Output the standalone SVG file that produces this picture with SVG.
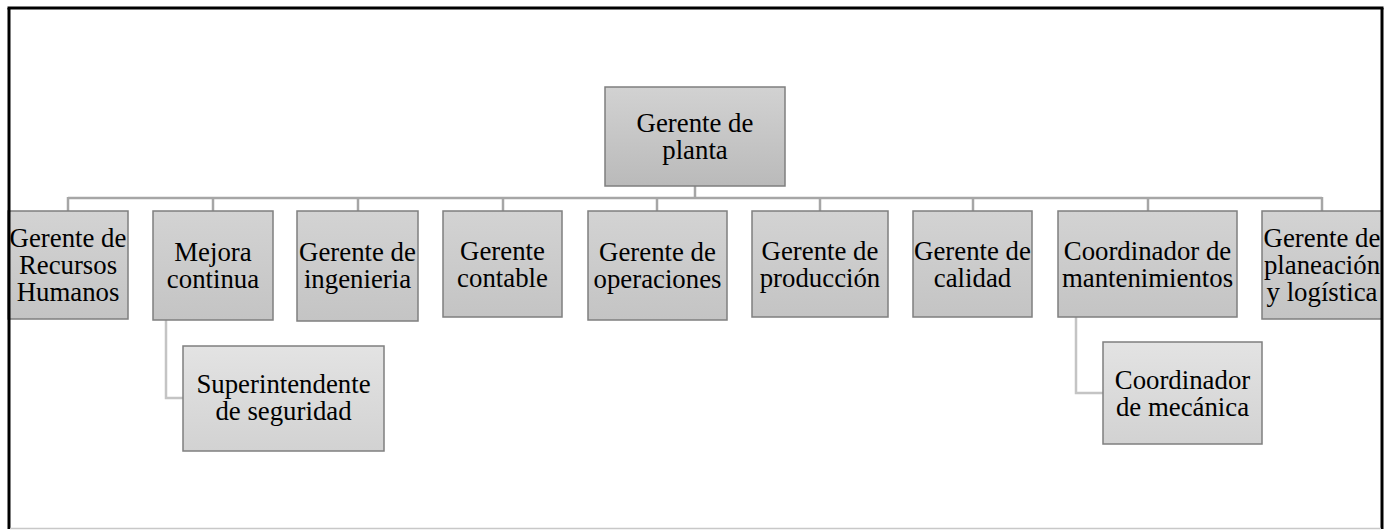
<svg xmlns="http://www.w3.org/2000/svg" width="1394" height="530" viewBox="0 0 1394 530">
  <defs>
    <linearGradient id="gTop" x1="0" y1="0" x2="0" y2="1">
      <stop offset="0" stop-color="#d2d2d2"/>
      <stop offset="1" stop-color="#bababa"/>
    </linearGradient>
    <linearGradient id="gMid" x1="0" y1="0" x2="0" y2="1">
      <stop offset="0" stop-color="#d3d3d3"/>
      <stop offset="1" stop-color="#c4c4c4"/>
    </linearGradient>
    <linearGradient id="gSub" x1="0" y1="0" x2="0" y2="1">
      <stop offset="0" stop-color="#e3e3e3"/>
      <stop offset="1" stop-color="#d2d2d2"/>
    </linearGradient>
  </defs>
  <style>
    .box { stroke: #7f7f7f; stroke-width: 1.5; }
    .top { fill: url(#gTop); }
    .mid { fill: url(#gMid); }
    .sub { fill: url(#gSub); }
    .lbl { font-family: 'Liberation Serif', 'DejaVu Serif', serif; font-size: 26.8px; fill: #000; text-anchor: middle; }
    .con { fill: none; stroke: #a6a6a6; stroke-width: 2.5; }
    .con2 { fill: none; stroke: #c4c4c4; stroke-width: 2.5; }
  </style>
  <rect x="0" y="0" width="1394" height="530" fill="#ffffff"/>

  <g id="connectors">
    <line class="con" x1="695" y1="186" x2="695" y2="198"/>
    <line class="con" x1="68" y1="198" x2="1322" y2="198"/>
    <line class="con" x1="68" y1="197" x2="68" y2="211"/>
    <line class="con" x1="213" y1="197" x2="213" y2="211"/>
    <line class="con" x1="358" y1="197" x2="358" y2="211"/>
    <line class="con" x1="503" y1="197" x2="503" y2="211"/>
    <line class="con" x1="657" y1="197" x2="657" y2="211"/>
    <line class="con" x1="820" y1="197" x2="820" y2="211"/>
    <line class="con" x1="973" y1="197" x2="973" y2="211"/>
    <line class="con" x1="1148" y1="197" x2="1148" y2="211"/>
    <line class="con" x1="1322" y1="197" x2="1322" y2="211"/>
    <path class="con2" d="M166,320 V398 H183"/>
    <path class="con2" d="M1076,317 V393 H1103"/>
  </g>

  <g id="n-planta">
    <rect class="box top" x="605" y="87" width="180" height="99"/>
    <text class="lbl" x="695" y="132">Gerente de</text>
    <text class="lbl" x="695" y="159">planta</text>
  </g>
  <g id="n-rrhh">
    <rect class="box mid" x="8" y="211" width="120" height="108"/>
    <text class="lbl" x="68" y="247">Gerente de</text>
    <text class="lbl" x="68" y="274">Recursos</text>
    <text class="lbl" x="68" y="301">Humanos</text>
  </g>
  <g id="n-mejora">
    <rect class="box mid" x="153" y="211" width="120" height="109"/>
    <text class="lbl" x="213" y="261">Mejora</text>
    <text class="lbl" x="213" y="288">continua</text>
  </g>
  <g id="n-ingenieria">
    <rect class="box mid" x="297" y="211" width="121" height="110"/>
    <text class="lbl" x="357.5" y="261">Gerente de</text>
    <text class="lbl" x="357.5" y="288">ingenieria</text>
  </g>
  <g id="n-contable">
    <rect class="box mid" x="443" y="211" width="119" height="106"/>
    <text class="lbl" x="502.5" y="260">Gerente</text>
    <text class="lbl" x="502.5" y="287">contable</text>
  </g>
  <g id="n-operaciones">
    <rect class="box mid" x="588" y="211" width="139" height="109"/>
    <text class="lbl" x="657.5" y="261">Gerente de</text>
    <text class="lbl" x="657.5" y="288">operaciones</text>
  </g>
  <g id="n-produccion">
    <rect class="box mid" x="752" y="211" width="136" height="106"/>
    <text class="lbl" x="820" y="260">Gerente de</text>
    <text class="lbl" x="820" y="287">producción</text>
  </g>
  <g id="n-calidad">
    <rect class="box mid" x="913" y="211" width="119" height="106"/>
    <text class="lbl" x="972.5" y="260">Gerente de</text>
    <text class="lbl" x="972.5" y="287">calidad</text>
  </g>
  <g id="n-mantenimientos">
    <rect class="box mid" x="1058" y="211" width="179" height="106"/>
    <text class="lbl" x="1147.5" y="260">Coordinador de</text>
    <text class="lbl" x="1147.5" y="287">mantenimientos</text>
  </g>
  <g id="n-planeacion">
    <rect class="box mid" x="1262" y="211" width="120" height="108"/>
    <text class="lbl" x="1322" y="247">Gerente de</text>
    <text class="lbl" x="1322" y="274">planeación</text>
    <text class="lbl" x="1322" y="301">y logística</text>
  </g>
  <g id="n-seguridad">
    <rect class="box sub" x="183" y="346" width="201" height="105"/>
    <text class="lbl" x="283.5" y="393">Superintendente</text>
    <text class="lbl" x="283.5" y="420">de seguridad</text>
  </g>
  <g id="n-mecanica">
    <rect class="box sub" x="1103" y="342" width="159" height="102"/>
    <text class="lbl" x="1182.5" y="389">Coordinador</text>
    <text class="lbl" x="1182.5" y="416">de mecánica</text>
  </g>

  <g id="frame">
    <line x1="9" y1="8" x2="9" y2="529" stroke="#000" stroke-width="3"/>
    <line x1="7.5" y1="8" x2="1383.5" y2="8" stroke="#000" stroke-width="3"/>
    <line x1="1382" y1="8" x2="1382" y2="529" stroke="#000" stroke-width="3"/>
    <line x1="10" y1="528.5" x2="1381" y2="528.5" stroke="#c8c8c8" stroke-width="1.5"/>
  </g>
</svg>
